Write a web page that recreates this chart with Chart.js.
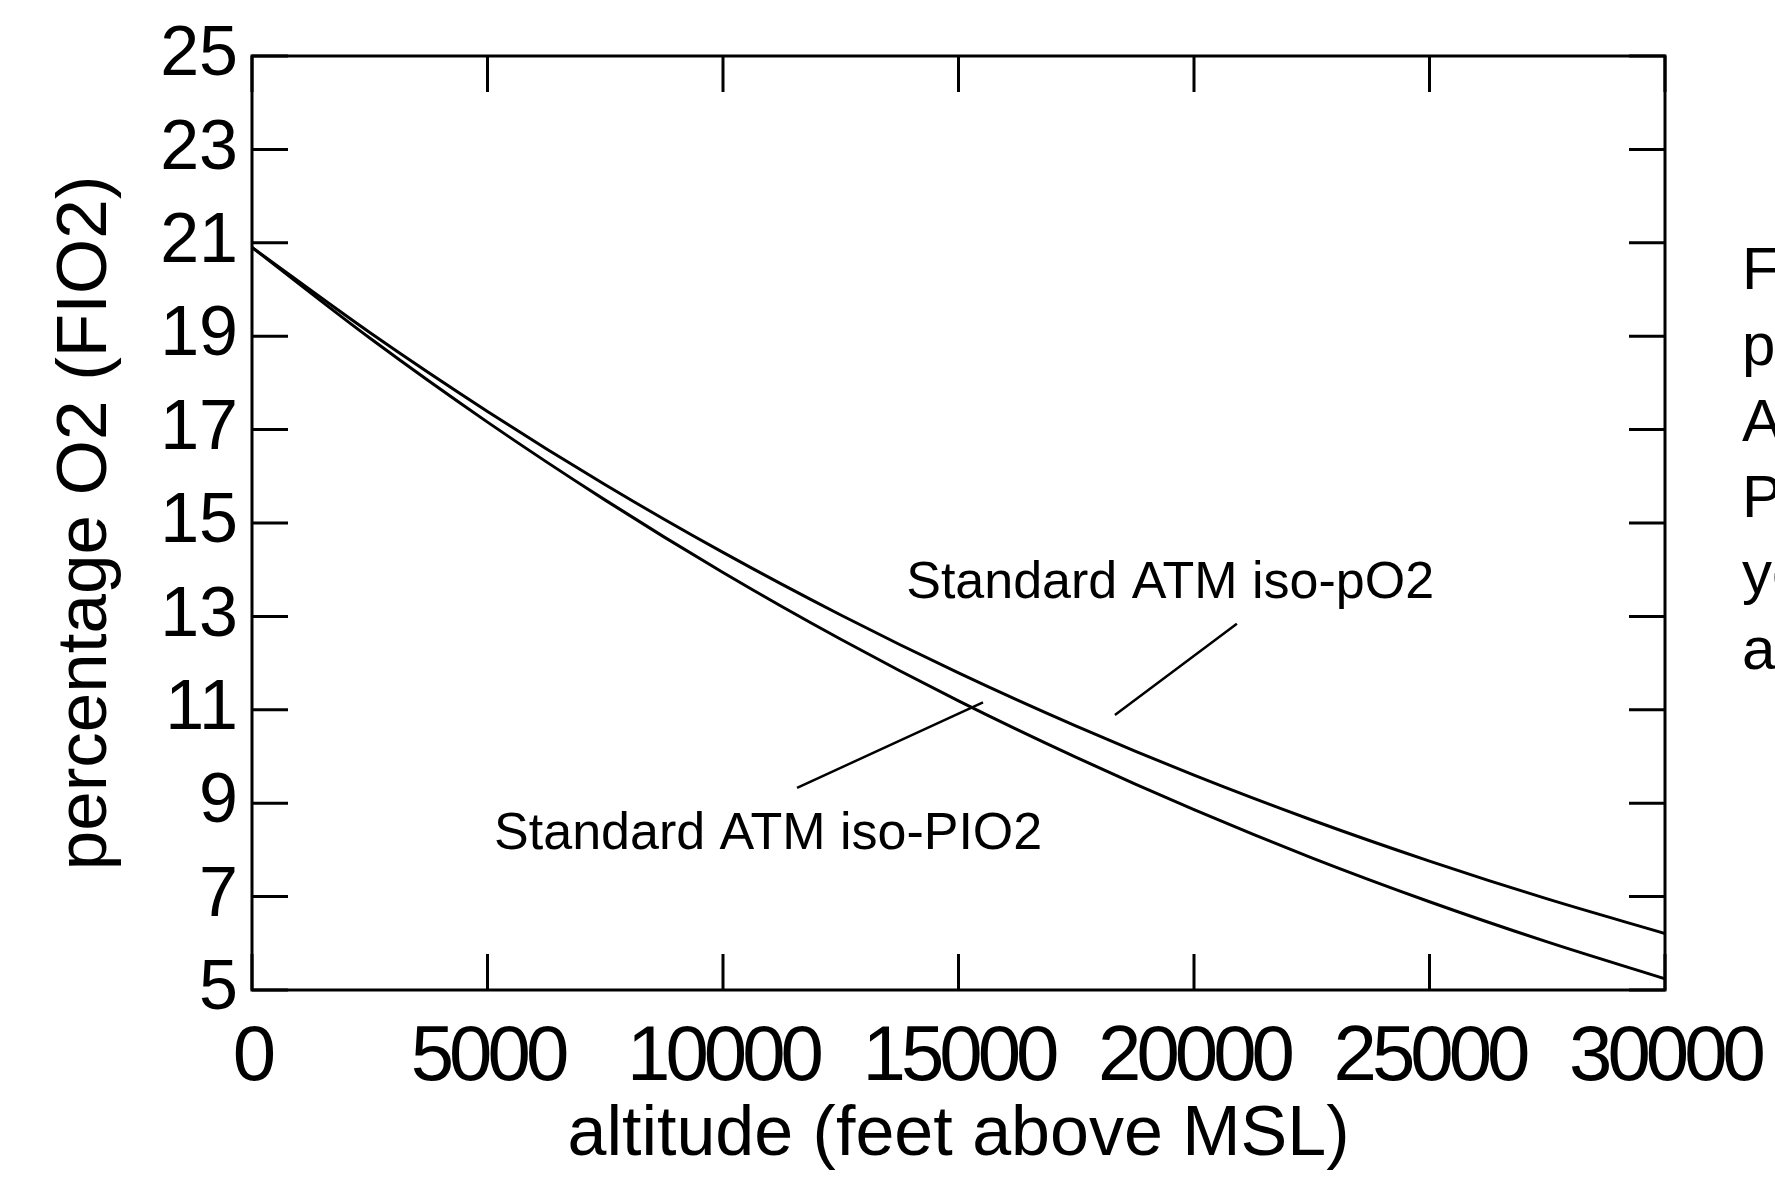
<!DOCTYPE html>
<html>
<head>
<meta charset="utf-8">
<script src="https://cdn.jsdelivr.net/npm/chart.js@4.4.1/dist/chart.umd.min.js"></script>
<style>
  html, body { margin: 0; padding: 0; background: #ffffff; }
  canvas { display: block; }
</style>
</head>
<body>
<canvas id="fio2-chart" width="1775" height="1190"></canvas>
<script>
/* values, altitude in feet */
const altitudes = [0, 2500, 5000, 7500, 10000, 12500, 15000, 17500, 20000, 22500, 25000, 27500, 30000];
const isoPO2 = [20.9, 19.08, 17.39, 15.82, 14.37, 13.03, 11.79, 10.65, 9.60, 8.64, 7.76, 6.95, 6.21];
const isoPIO2 = [20.9, 18.96, 17.16, 15.49, 13.94, 12.51, 11.19, 9.98, 8.86, 7.83, 6.89, 6.03, 5.24];

const xTicks = [0, 5000, 10000, 15000, 20000, 25000, 30000];
const yTicks = [5, 7, 9, 11, 13, 15, 17, 19, 21, 23, 25];

const xTitle = 'altitude (feet above MSL)';
const yTitle = 'percentage O2 (FIO2)';

// labels inside the plot, anchored in data units
const curveLabels = [
    { text: 'Standard ATM iso-pO2', x: 13890, y: 13.39, from: [20910, 12.84], to: [18321, 10.89] },
    { text: 'Standard ATM iso-PIO2', x: 5140, y: 8.02, from: [11572, 9.33], to: [15520, 11.16] }
];

// caption cut off by the right edge
const sideCaption = ['F', 'p', 'A', 'P', 'yo', 'a'];

const SANS = "'Liberation Sans', Arial, sans-serif";

const framePlugin = {
    id: 'frame',
    afterDatasetsDraw(chart) {
        const ctx = chart.ctx;
        const area = chart.chartArea;
        const xs = chart.scales.x;
        const ys = chart.scales.y;
        const tick = 36;

        ctx.save();
        ctx.strokeStyle = '#000';
        ctx.lineWidth = 3;
        ctx.lineCap = 'butt';

        // box around the plot
        ctx.strokeRect(area.left, area.top, area.right - area.left, area.bottom - area.top);

        // ticks pointing inwards on all four sides
        ctx.beginPath();
        xTicks.forEach(v => {
            const px = xs.getPixelForValue(v);
            ctx.moveTo(px, area.bottom); ctx.lineTo(px, area.bottom - tick);
            ctx.moveTo(px, area.top); ctx.lineTo(px, area.top + tick);
        });
        yTicks.forEach(v => {
            const py = ys.getPixelForValue(v);
            ctx.moveTo(area.left, py); ctx.lineTo(area.left + tick, py);
            ctx.moveTo(area.right, py); ctx.lineTo(area.right - tick, py);
        });
        ctx.stroke();

        // leader lines and their labels
        ctx.lineWidth = 2.5;
        ctx.fillStyle = '#000';
        ctx.font = '52px ' + SANS;
        ctx.textAlign = 'left';
        ctx.textBaseline = 'alphabetic';
        curveLabels.forEach(l => {
            ctx.beginPath();
            ctx.moveTo(xs.getPixelForValue(l.from[0]), ys.getPixelForValue(l.from[1]));
            ctx.lineTo(xs.getPixelForValue(l.to[0]), ys.getPixelForValue(l.to[1]));
            ctx.stroke();
            ctx.fillText(l.text, xs.getPixelForValue(l.x), ys.getPixelForValue(l.y));
        });

        // caption on the right, clipped by the canvas edge
        ctx.font = '60px ' + SANS;
        sideCaption.forEach((t, i) => {
            ctx.fillText(t, 1742, 289 + i * 76);
        });
        ctx.restore();
    }
};

// the x tick numbers are set tighter than normal in the original
function squeezeLabels(scale) {
    if (scale._squeezed) return;
    const orig = scale.drawLabels;
    scale.drawLabels = function (area) {
        const c = this.ctx;
        c.save();
        c.letterSpacing = '-5px';
        orig.call(this, area);
        c.restore();
    };
    scale._squeezed = true;
}

const ctx = document.getElementById('fio2-chart').getContext('2d');

new Chart(ctx, {
    type: 'line',
    data: {
        labels: altitudes,
        datasets: [
            {
                label: 'Standard ATM iso-pO2',
                data: altitudes.map((a, i) => ({ x: a, y: isoPO2[i] })),
                borderColor: '#000',
                borderWidth: 3,
                pointRadius: 0,
                cubicInterpolationMode: 'monotone',
                fill: false
            },
            {
                label: 'Standard ATM iso-PIO2',
                data: altitudes.map((a, i) => ({ x: a, y: isoPIO2[i] })),
                borderColor: '#000',
                borderWidth: 3,
                pointRadius: 0,
                cubicInterpolationMode: 'monotone',
                fill: false
            }
        ]
    },
    options: {
        responsive: false,
        animation: false,
        devicePixelRatio: 1,
        layout: { padding: { top: 49, right: 110, left: 0, bottom: 0 } },
        plugins: {
            legend: { display: false },
            tooltip: { enabled: false }
        },
        scales: {
            x: {
                type: 'linear',
                min: 0,
                max: 30000,
                afterBuildTicks: scale => { scale.ticks = xTicks.map(v => ({ value: v })); },
                afterFit: scale => {
                    scale.height = 200;
                    scale.paddingLeft = 0;
                    scale.paddingRight = 0;
                },
                afterUpdate: squeezeLabels,
                grid: { display: false, drawTicks: false },
                border: { display: false },
                ticks: {
                    color: '#000',
                    padding: 22,
                    maxRotation: 0,
                    autoSkip: false,
                    font: { family: SANS, size: 78 },
                    callback: v => String(v)
                },
                title: {
                    display: true,
                    text: xTitle,
                    color: '#000',
                    font: { family: SANS, size: 70, lineHeight: 1 },
                    padding: { top: 0, bottom: 19 }
                }
            },
            y: {
                type: 'linear',
                min: 5,
                max: 25,
                afterBuildTicks: scale => { scale.ticks = yTicks.map(v => ({ value: v })); },
                afterFit: scale => { scale.width = 252; },
                grid: { display: false, drawTicks: false },
                border: { display: false },
                ticks: {
                    color: '#000',
                    padding: 14,
                    autoSkip: false,
                    font: { family: SANS, size: 70 }
                },
                title: {
                    display: true,
                    text: yTitle,
                    color: '#000',
                    font: { family: SANS, size: 71, lineHeight: 1 },
                    padding: { top: 51, bottom: 0 }
                }
            }
        }
    },
    plugins: [framePlugin]
});
</script>
</body>
</html>
